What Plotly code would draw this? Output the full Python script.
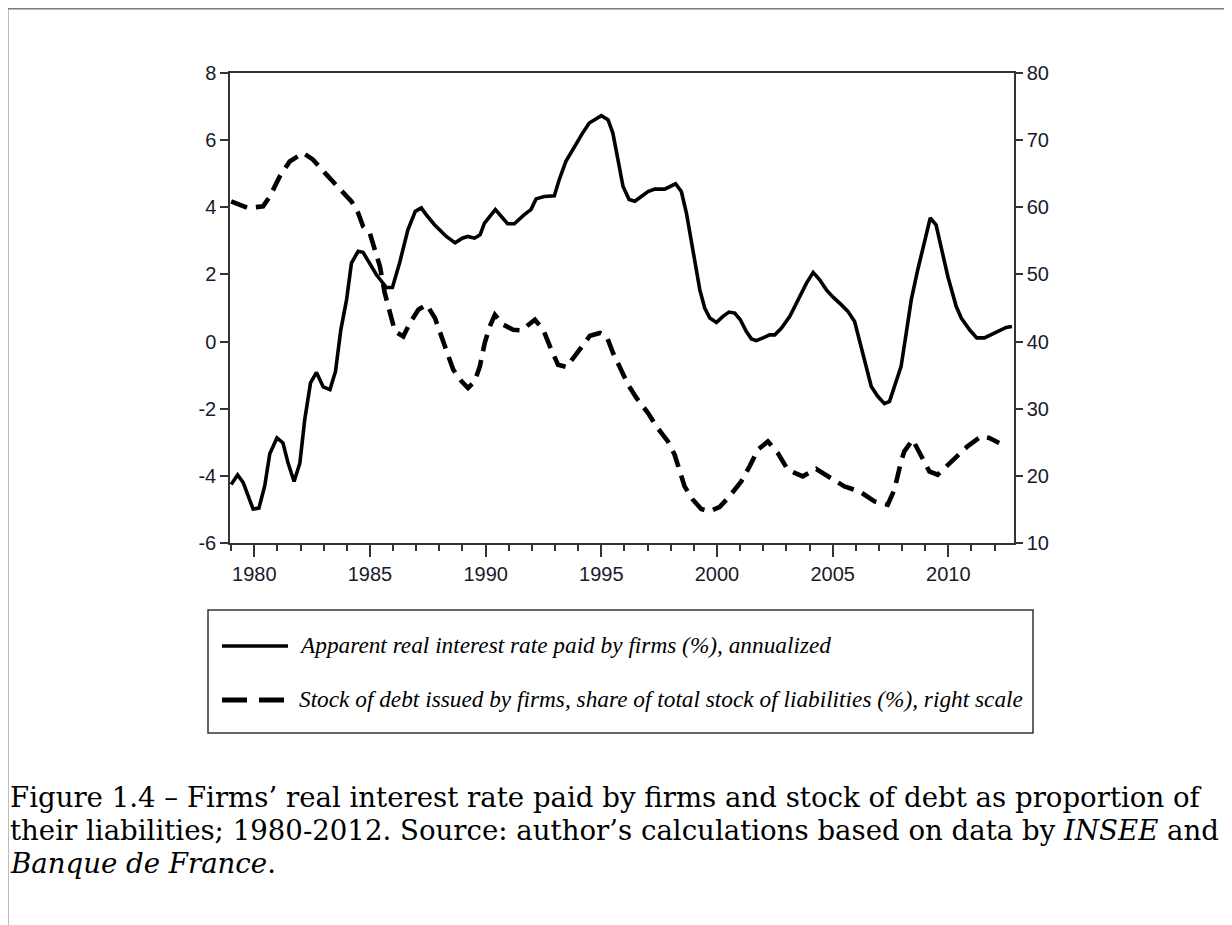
import plotly.graph_objects as go

# ---- data (decimal years) ----
rate_t = [1979.0, 1979.28, 1979.52, 1979.95, 1980.2, 1980.45, 1980.67, 1980.98, 1981.24, 1981.46,
          1981.72, 1981.97, 1982.18, 1982.43, 1982.69, 1982.98, 1983.27, 1983.51, 1983.74, 1983.99,
          1984.2, 1984.49, 1984.7, 1985.28, 1985.71, 1985.97, 1986.28, 1986.64, 1986.96, 1987.22,
          1987.43, 1987.79, 1988.3, 1988.68, 1988.99, 1989.23, 1989.52, 1989.76, 1989.95, 1990.42,
          1990.95, 1991.24, 1991.67, 1991.96, 1992.18, 1992.53, 1992.97, 1993.18, 1993.47, 1993.76,
          1994.19, 1994.48, 1995.0, 1995.29, 1995.5, 1995.72, 1995.94, 1996.2, 1996.45, 1996.73,
          1997.02, 1997.31, 1997.74, 1998.21, 1998.46, 1998.68, 1998.97, 1999.26, 1999.47, 1999.69,
          1999.98, 2000.26, 2000.52, 2000.77, 2001.01, 2001.27, 2001.49, 2001.7, 2001.99, 2002.28,
          2002.5, 2002.79, 2003.15, 2003.51, 2003.87, 2004.16, 2004.44, 2004.73, 2005.01, 2005.37,
          2005.66, 2005.95, 2006.16, 2006.45, 2006.67, 2006.95, 2007.24, 2007.46, 2007.74, 2007.96,
          2008.18, 2008.4, 2008.68, 2008.97, 2009.22, 2009.47, 2009.69, 2009.98, 2010.34, 2010.56,
          2010.92, 2011.23, 2011.56, 2011.92, 2012.21, 2012.5, 2012.75]
rate_v = [-4.26, -3.97, -4.2, -4.99, -4.96, -4.3, -3.34, -2.87, -3.02, -3.62,
          -4.17, -3.62, -2.33, -1.23, -0.92, -1.35, -1.43, -0.89, 0.35, 1.25,
          2.34, 2.69, 2.66, 1.99, 1.61, 1.61, 2.34, 3.33, 3.88, 3.98,
          3.78, 3.48, 3.13, 2.94, 3.08, 3.13, 3.08, 3.18, 3.53, 3.93,
          3.51, 3.51, 3.78, 3.93, 4.25, 4.32, 4.34, 4.82, 5.37, 5.72,
          6.21, 6.51, 6.73, 6.61, 6.21, 5.42, 4.62, 4.23, 4.18, 4.32,
          4.47, 4.54, 4.54, 4.70, 4.47, 3.83, 2.64, 1.54, 1.0, 0.70,
          0.57, 0.75, 0.88, 0.85, 0.65, 0.30, 0.08, 0.03, 0.11, 0.20,
          0.20, 0.40, 0.75, 1.25, 1.74, 2.06, 1.84, 1.54, 1.33, 1.10,
          0.90, 0.60, 0.06, -0.74, -1.34, -1.63, -1.85, -1.78, -1.23, -0.74,
          0.25, 1.25, 2.14, 3.03, 3.68, 3.48, 2.83, 1.94, 1.05, 0.70,
          0.35, 0.11, 0.11, 0.23, 0.30, 0.42, 0.45]

debt_t = [1979.0, 1979.3, 1979.73, 1980.38, 1980.67, 1981.1, 1981.53, 1982.11, 1982.54, 1983.12,
          1983.69, 1984.2, 1984.49, 1984.7, 1984.99, 1985.21, 1985.43, 1985.64, 1985.86, 1986.08,
          1986.44, 1986.73, 1987.09, 1987.45, 1987.81, 1988.1, 1988.31, 1988.6, 1988.96, 1989.24,
          1989.53, 1989.75, 1989.96, 1990.18, 1990.4, 1990.76, 1991.19, 1991.55, 1992.13, 1992.49,
          1992.78, 1993.13, 1993.5, 1994.08, 1994.51, 1994.94, 1995.23, 1995.51, 1995.8, 1996.16,
          1996.52, 1997.02, 1997.38, 1997.88, 1998.17, 1998.39, 1998.6, 1998.96, 1999.32, 1999.68,
          2000.11, 2000.54, 2001.05, 2001.41, 2001.77, 2002.2, 2002.63, 2003.06, 2003.71, 2004.29,
          2004.94, 2005.51, 2006.16, 2006.81, 2007.38, 2007.67, 2007.96, 2008.1, 2008.46, 2008.82,
          2009.18, 2009.54, 2009.83, 2010.33, 2010.83, 2011.41, 2011.77, 2012.2]
debt_v = [60.88, 60.53, 59.9, 60.14, 61.6, 64.6, 66.83, 68.09, 67.09, 64.86,
          62.87, 60.88, 59.15, 57.16, 56.17, 53.68, 51.2, 47.24, 44.26, 41.52,
          40.77, 42.77, 44.75, 45.5, 43.51, 40.77, 38.79, 35.81, 34.07, 33.08,
          34.07, 36.3, 39.79, 42.26, 44.0, 42.52, 41.77, 41.67, 43.26, 41.77,
          39.28, 36.55, 36.2, 38.8, 40.88, 41.28, 40.77, 38.3, 36.06, 33.58,
          31.6, 29.36, 27.37, 25.13, 23.15, 20.66, 18.43, 16.45, 15.06, 14.71,
          15.36, 16.94, 19.18, 21.41, 23.9, 25.13, 23.4, 20.92, 19.92, 21.02,
          19.68, 18.43, 17.69, 16.2, 15.7, 17.94, 22.16, 23.65, 25.39, 23.15,
          20.66, 20.17, 21.17, 22.9, 24.39, 25.88, 25.64, 24.89]

left_ticks = [-6, -4, -2, 0, 2, 4, 6, 8]
left_tick_labels = ["-6", "-4", "-2", "0", "2", "4", "6", "8"]
right_ticks = [10, 20, 30, 40, 50, 60, 70, 80]
year_ticks = [1980, 1985, 1990, 1995, 2000, 2005, 2010]

rate_name = "Apparent real interest rate paid by firms (%), annualized"
debt_name = "Stock of debt issued by firms, share of total stock of liabilities (%), right scale"
caption_lines = [
    "Figure 1.4 – Firms’ real interest rate paid by firms and stock of debt as proportion of",
    "their liabilities; 1980-2012. Source: author’s calculations based on data by <i>INSEE</i> and",
    "<i>Banque de France</i>.",
]

W, H = 1232, 925
OFF = 8  # page body margin: figure origin sits 8px right/down of the page origin
L, R, T, B = 230 - OFF, 1014 - OFF, 73 - OFF, 543 - OFF
pw, ph = R - L, B - T


def px(x):  # page x -> paper fraction
    return (x - OFF - L) / pw


def py(y):  # page y -> paper fraction
    return (B - (y - OFF)) / ph


axis_col = "#333333"
tick_font = dict(family="Liberation Sans, Arial, sans-serif", size=20, color="#1a1a2a")

fig = go.Figure()
fig.add_trace(go.Scatter(x=rate_t, y=rate_v, mode="lines", name=rate_name,
                         line=dict(color="black", width=3.6), showlegend=False))
fig.add_trace(go.Scatter(x=debt_t, y=debt_v, mode="lines", name=debt_name, yaxis="y2",
                         line=dict(color="black", width=4.6, dash="17px,9px"), showlegend=False))

fig.update_layout(
    width=W, height=H,
    margin=dict(l=L, r=W - R, t=T, b=H - B, pad=0),
    paper_bgcolor="white", plot_bgcolor="white",
    xaxis=dict(range=[1978.95, 2012.84], tickmode="array", tickvals=year_ticks,
               ticktext=[str(y) for y in year_ticks],
               ticks="outside", ticklen=12, tickwidth=1.5, tickcolor=axis_col,
               showline=True, linecolor=axis_col, linewidth=1.5, mirror=True,
               showgrid=False, zeroline=False, tickfont=tick_font,
               minor=dict(dtick=1, tick0=1980, ticks="outside", ticklen=6, tickwidth=1.5,
                          tickcolor=axis_col, showgrid=False)),
    yaxis=dict(range=[-6, 8], tickmode="array", tickvals=left_ticks, ticktext=left_tick_labels,
               ticks="outside", ticklen=8, tickwidth=1.5, tickcolor=axis_col,
               showline=True, linecolor=axis_col, linewidth=1.5,
               showgrid=False, zeroline=False, tickfont=tick_font),
    yaxis2=dict(range=[10, 80], tickmode="array", tickvals=right_ticks,
                ticktext=[str(v) for v in right_ticks], overlaying="y", side="right",
                ticks="outside", ticklen=7, tickwidth=1.5, tickcolor=axis_col,
                showline=True, linecolor=axis_col, linewidth=1.5,
                showgrid=False, zeroline=False, tickfont=tick_font),
)

shapes = []
# outer page frame
shapes.append(dict(type="line", xref="paper", yref="paper", x0=px(7.5), x1=px(W + 20), y0=py(8.5), y1=py(8.5),
                   line=dict(color="#7a7a7a", width=2)))
shapes.append(dict(type="line", xref="paper", yref="paper", x0=px(7.5), x1=px(7.5), y0=py(8.5), y1=py(H + 20),
                   line=dict(color="#7a7a7a", width=2)))
# legend box
shapes.append(dict(type="rect", xref="paper", yref="paper", x0=px(208), x1=px(1033), y0=py(610), y1=py(733),
                   line=dict(color="#333333", width=1.5), fillcolor="white"))
shapes.append(dict(type="line", xref="paper", yref="paper", x0=px(222), x1=px(288), y0=py(646), y1=py(646),
                   line=dict(color="black", width=3.6)))
shapes.append(dict(type="line", xref="paper", yref="paper", x0=px(222), x1=px(288), y0=py(700), y1=py(700),
                   line=dict(color="black", width=5, dash="25px,12px")))
fig.update_layout(shapes=shapes)

leg_font = dict(family="Liberation Serif, serif", size=23.3, color="black")
annotations = [
    dict(xref="paper", yref="paper", x=px(297), y=py(645), xanchor="left", yanchor="middle",
         text="<i>" + rate_name + "</i>", showarrow=False, font=leg_font),
    dict(xref="paper", yref="paper", x=px(297), y=py(699), xanchor="left", yanchor="middle",
         text="<i>" + debt_name + "</i>", showarrow=False, font=leg_font),
]
cap_font = dict(family="DejaVu Serif, serif", size=27.6, color="black")
for i, line in enumerate(caption_lines):
    annotations.append(dict(xref="paper", yref="paper", x=px(8), y=py(797 + 33 * i),
                            xanchor="left", yanchor="middle", text=line, showarrow=False,
                            font=cap_font))
fig.update_layout(annotations=annotations)

fig.write_html("out.html")
